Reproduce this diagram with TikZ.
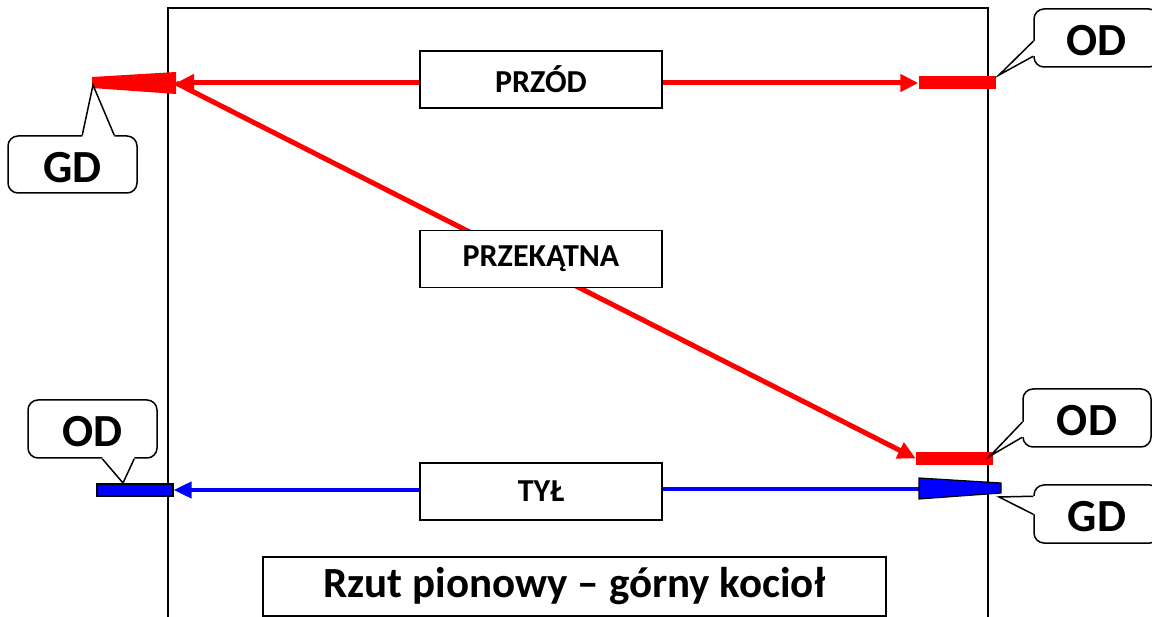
\documentclass[tikz,border=0pt]{standalone}
\usepackage{fontspec}
\setmainfont{Carlito}
\usetikzlibrary{calc,arrows.meta}
\newcommand{\calloutptr}[5]{\fill[white] ($(#1)+(#2)$) -- (#4) -- ($(#1)+(#3)$) -- ($(#1)+(#3)+(#5)$) -- ($(#1)+(#2)+(#5)$) -- cycle;
	\draw[line width=1.5pt] ($(#1)+(#2)$) -- (#4) -- ($(#1)+(#3)$);}
\tikzset{
	labelbox/.style={draw, line width=1.5pt, fill=white, minimum width=242pt, minimum height=57pt, font=\fontsize{32}{38}\selectfont\bfseries},
	callout/.style={draw, line width=1.5pt, fill=white, rounded corners=10pt, minimum width=128pt, minimum height=58pt, text height=36pt, text depth=0pt, font=\fontsize{46}{50}\selectfont\bfseries},
	bar/.style={inner sep=0pt, minimum width=77pt, minimum height=13pt},
	redline/.style={red, line width=5pt},
	redarrow/.style={redline, -{Triangle[length=18pt,width=17pt]}},
	blueline/.style={blue, line width=4pt},
	bluearrow/.style={blueline, -{Triangle[length=18pt,width=16pt]}}
}
\begin{document}
\begin{tikzpicture}[x=1pt, y=-1pt]
			%%%%% START %%%%%
			\useasboundingbox (0,0) rectangle (1152,617);
			
			\draw[line width=1.5pt] (168,617) -- (168,8) -- (988,8) -- (988,617);
			
			% markers
			\coordinate (gdWedge) at (176,83);
			\coordinate (gdRight) at (919,489);
			\node[bar, fill=red] (odTop) at (957,83) {};
			\node[bar, fill=red] (odLow) at (954.5,458.5) {};
			\node[bar, fill=blue, draw=black, line width=1.2pt, minimum width=76pt, minimum height=12pt] (odBlue) at (135,490) {};
			
			% lines
			\draw[redarrow] (541,83) -- (gdWedge);
			\draw[redarrow] (541,83) -- (odTop.west);
			\draw[redarrow] (gdWedge) -- (odLow.west);
			\draw[bluearrow] (541,490) -- (odBlue.east);
			\draw[blueline] (541,489) -- (gdRight);
			
			\fill[red] (92,77) -- (176,72) -- (176,94) -- (92,88) -- cycle;
			\filldraw[fill=blue, line width=1.2pt] (919,478) -- (1001,483) -- (1001,493) -- (919,499) -- cycle;
			
			% boxes
			\node[labelbox] (przod) at (541,79.5) {PRZÓD};
			\node[labelbox] (przekatna) at (541,259) {PRZEKĄTNA};
			\node[labelbox] (tyl) at (541,491.5) {TYŁ};
			\node[labelbox, minimum width=623pt, minimum height=59pt, font=\fontsize{43}{48}\selectfont\bfseries] (title) at (574.5,586.5) {Rzut pionowy – górny kocioł};
			
			% callouts
			\node[callout, minimum width=129pt, minimum height=57pt] (gdL) at (72.5,164.5) {GD};
			\node[callout, minimum width=125pt] (odTR) at (1096.5,38) {OD};
			\node[callout] (odLR) at (1087,418) {OD};
			\node[callout, minimum width=126pt] (gdLR) at (1097,514) {GD};
			\node[callout, minimum width=129pt] (odL) at (92.5,429) {OD};
			
			\coordinate (gdLtip) at (93,85);
			\coordinate (odTRtip) at (999,75);
			\coordinate (odLRtip) at (990,456);
			\coordinate (gdLRtip) at (999,497);
			\coordinate (odLtip) at (123,483);
			
			\calloutptr{gdL.north west}{75,0}{107,0}{gdLtip}{0,2}
			\calloutptr{odTR.north west}{0,33}{0,48}{odTRtip}{2,0}
			\calloutptr{odLR.north west}{0,34}{0,49}{odLRtip}{2,0}
			\calloutptr{gdLR.north west}{0,12}{0,30}{gdLRtip}{2,0}
			\calloutptr{odL.south west}{75,0}{107,0}{odLtip}{0,-2}
			
			%%%%% END %%%%%
\end{tikzpicture}
\end{document}
